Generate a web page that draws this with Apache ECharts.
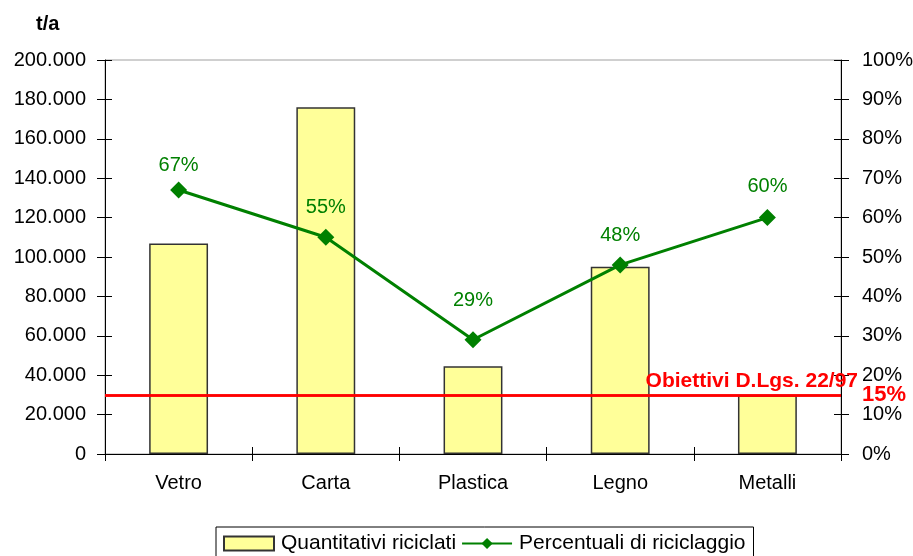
<!DOCTYPE html>
<html>
<head>
<meta charset="utf-8">
<script src="https://cdn.jsdelivr.net/npm/echarts@6/dist/echarts.min.js"></script>
<style>
  html, body { margin: 0; padding: 0; background: #fff; }
  #chart { width: 913px; height: 556px; }
</style>
</head>
<body>
<div id="chart"></div>
<script>
// Recycled materials: tonnes per year (bars) and recycling rate (line)
const categories = ['Vetro', 'Carta', 'Plastica', 'Legno', 'Metalli'];
const quantities = [106800, 176000, 44500, 95000, 29800];
const percentages = [67, 55, 29, 48, 60];
const targetPercent = 15;
const targetLabel = 'Obiettivi D.Lgs. 22/97';
const unitLabel = 't/a';
const seriesNames = ['Quantitativi riciclati', 'Percentuali di riciclaggio'];

// per-point spacing of the percentage labels above the markers
const labelGaps = [6, 11, 21, 11, 13];

const FONT = 'Arial, "Liberation Sans", sans-serif';
const GREEN = '#008000';
const RED = '#ff0000';

function thousands(v) {
  return String(v).replace(/\B(?=(\d{3})+(?!\d))/g, '.');
}

const chart = echarts.init(document.getElementById('chart'), null, { renderer: 'canvas' });

const lineData = percentages.map((p, i) => ({
  value: p,
  label: { distance: labelGaps[i] }
}));

chart.setOption({
  animation: false,
  backgroundColor: '#fff',
  textStyle: { fontFamily: FONT },
  title: {
    text: unitLabel,
    left: 31,
    top: 9,
    textStyle: { fontFamily: FONT, fontSize: 20, fontWeight: 'bold', color: '#000' }
  },
  grid: {
    left: 105, right: 72, top: 60, bottom: 102,
    outerBoundsMode: 'none',
    containLabel: false,
    show: true, borderColor: '#a0a0a0', borderWidth: 1, backgroundColor: 'transparent'
  },
  legend: {
    left: 216,
    top: 527,
    padding: [6, 8, 8, 7],
    itemWidth: 50,
    itemHeight: 14,
    itemGap: 5,
    borderColor: '#000',
    borderWidth: 1,
    borderRadius: 0,
    textStyle: { fontFamily: FONT, fontSize: 21, color: '#000', padding: [0, 0, 0, 2] },
    data: [
      { name: seriesNames[0], icon: 'rect' },
      { name: seriesNames[1] }
    ]
  },
  xAxis: [
    {
      type: 'category',
      data: categories,
      position: 'bottom',
      axisLine: { show: true, lineStyle: { color: '#000', width: 1 } },
      axisTick: { show: true, alignWithLabel: false, interval: 0, length: 7, lineStyle: { color: '#000' } },
      axisLabel: { margin: 19, fontFamily: FONT, fontSize: 20, color: '#000' }
    },
    {
      type: 'category',
      data: categories,
      position: 'bottom',
      axisLine: { show: false },
      axisTick: { show: true, inside: true, alignWithLabel: false, interval: 0, length: 7, lineStyle: { color: '#000' } },
      axisLabel: { show: false }
    }
  ],
  yAxis: [
    {
      type: 'value',
      min: 0, max: 200000, interval: 20000,
      position: 'left',
      axisLine: { show: true, lineStyle: { color: '#000' } },
      axisTick: { show: true, length: 8, lineStyle: { color: '#000' } },
      splitLine: { show: false },
      axisLabel: { margin: 19, fontFamily: FONT, fontSize: 20, color: '#000', formatter: thousands }
    },
    {
      type: 'value',
      min: 0, max: 100, interval: 10,
      position: 'right',
      axisLine: { show: true, lineStyle: { color: '#000' } },
      axisTick: { show: true, length: 8, lineStyle: { color: '#000' } },
      splitLine: { show: false },
      axisLabel: { margin: 21, fontFamily: FONT, fontSize: 20, color: '#000', formatter: '{value}%' }
    },
    {
      type: 'value',
      min: 0, max: 200000, interval: 20000,
      position: 'left',
      axisLine: { show: false },
      axisTick: { show: true, inside: true, length: 7, lineStyle: { color: '#000' } },
      splitLine: { show: false },
      axisLabel: { show: false }
    },
    {
      type: 'value',
      min: 0, max: 100, interval: 10,
      position: 'right',
      axisLine: { show: false },
      axisTick: { show: true, inside: true, length: 7, lineStyle: { color: '#000' } },
      splitLine: { show: false },
      axisLabel: { show: false }
    }
  ],
  series: [
    {
      name: seriesNames[0],
      type: 'bar',
      xAxisIndex: 0,
      yAxisIndex: 0,
      data: quantities,
      barWidth: '40%',
      itemStyle: { color: '#ffff99', borderColor: '#333333', borderWidth: 1.5 },
      z: 2
    },
    {
      name: seriesNames[1],
      type: 'line',
      xAxisIndex: 0,
      yAxisIndex: 1,
      data: lineData,
      symbol: 'diamond',
      symbolSize: 17,
      lineStyle: { color: GREEN, width: 3 },
      itemStyle: { color: GREEN },
      label: {
        show: true,
        position: 'top',
        formatter: '{c}%',
        fontFamily: FONT,
        fontSize: 20,
        color: GREEN
      },
      z: 5,
      markLine: {
        silent: true,
        symbol: 'none',
        lineStyle: { color: RED, width: 2.5, type: 'solid' },
        data: [
          {
            yAxis: targetPercent,
            label: {
              show: true,
              position: 'end',
              distance: 21,
              formatter: targetPercent + '%',
              fontFamily: FONT,
              fontSize: 22,
              fontWeight: 'bold',
              color: RED
            }
          },
          {
            yAxis: targetPercent,
            label: {
              show: true,
              position: 'insideEndTop',
              distance: 3,
              offset: [20, 0],
              formatter: targetLabel,
              fontFamily: FONT,
              fontSize: 21,
              fontWeight: 'bold',
              color: RED
            }
          }
        ]
      }
    }
  ]
});
</script>
</body>
</html>
